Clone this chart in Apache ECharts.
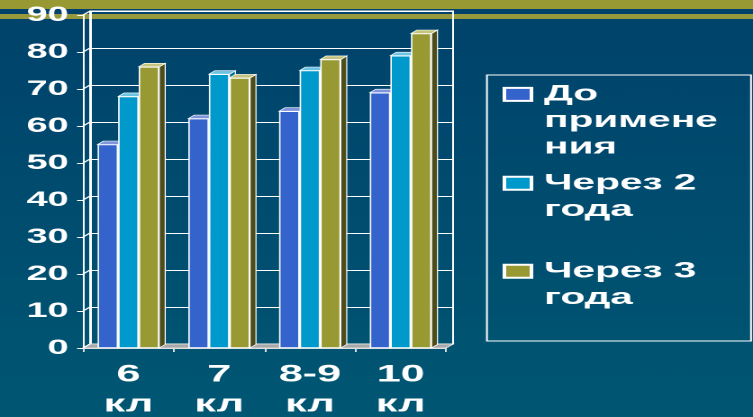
<!DOCTYPE html>
<html>
<head>
<meta charset="utf-8">
<script src="https://cdn.jsdelivr.net/npm/echarts@6/dist/echarts.min.js"></script>
<style>
html, body { margin: 0; padding: 0; width: 753px; height: 417px; overflow: hidden;
  background: linear-gradient(#00426b, #005773); }
#c { width: 418px; height: 417px; transform: scaleX(1.80144); transform-origin: 0 0; }
</style>
</head>
<body>
<div id="c"></div>
<script>
// ---- data ----
const categories = ['6 кл', '7 кл', '8-9 кл', '10 кл'];
const seriesNames = ['До применения', 'Через 2 года', 'Через 3 года'];
const before = [55, 62, 64, 69];
const after2 = [68, 74, 75, 79];
const after3 = [76, 73, 78, 85];
const yTicks = [0, 10, 20, 30, 40, 50, 60, 70, 80, 90];
const legendLabels = ['До\nпримене\nния', 'Через 2\nгода', 'Через 3\nгода'];

// ---- style ----
const FONT = 'Liberation Sans, Arial, sans-serif';
const frontColors = ['#3563cc', '#0099cc', '#999933'];
const topColors = ['#8096dc', '#6cc4e2', '#c4c47e'];
const sideColors = ['#243f85', '#006b90', '#4d4d1c'];
const DX = 3.3, DY = 3.5;     // bar depth (pre-stretch px)
const WX = 3.9, WY = 4;       // wall depth
const LH = 26.5;

const chart = echarts.init(document.getElementById('c'), null, { renderer: 'canvas', devicePixelRatio: 2 });

function renderWalls(params, api) {
  const cs = params.coordSys;
  const v = api.value(1);
  const y = api.coord([0, v])[1];
  const children = [{
    type: 'line', shape: { x1: cs.x, y1: y, x2: cs.x + WX, y2: y - WY },
    style: { stroke: '#ffffff', lineWidth: 1 }
  }];
  if (v === 0) {
    children.unshift({
      type: 'polygon',
      shape: { points: [[cs.x, y], [cs.x + cs.width, y], [cs.x + cs.width + WX, y - WY], [cs.x + WX, y - WY]] },
      style: { fill: '#a9a9a9', stroke: '#e6e6e6', lineWidth: 0.8 }
    });
  }
  return { type: 'group', children };
}

function render3D(params, api) {
  const i = api.value(0);
  const base = api.coord([i, 0]);
  const band = api.size([1, 0])[0];
  const w = band * 0.68 / 3;
  const left = base[0] - 1.5 * w;
  const children = [];
  for (let j = 0; j < 3; j++) {
    const y = api.coord([i, api.value(j + 1)])[1];
    const x0 = left + j * w;
    children.push({
      type: 'polygon',
      shape: { points: [[x0 + w, y], [x0 + w + DX, y - DY], [x0 + w + DX, base[1] - DY], [x0 + w, base[1]]] },
      style: { fill: sideColors[j], stroke: '#ffffff', lineWidth: 0.6 }
    });
    children.push({
      type: 'polygon',
      shape: { points: [[x0, y], [x0 + w, y], [x0 + w + DX, y - DY], [x0 + DX, y - DY]] },
      style: { fill: topColors[j], stroke: '#ffffff', lineWidth: 0.6 }
    });
  }
  return { type: 'group', children };
}

const values = [before, after2, after3];
const legendTops = [28.1, 143.5, 231.5];

// leading empty lines keep the first text line level with the legend marker
function legendText(k) {
  const n = legendLabels[k].split('\n').length;
  return '\n'.repeat(n - 1) + legendLabels[k];
}

const option = {
  backgroundColor: {
    type: 'linear', x: 0, y: 0, x2: 0, y2: 1,
    colorStops: [{ offset: 0, color: '#00426b' }, { offset: 1, color: '#005773' }]
  },
  animation: false,
  textStyle: { fontFamily: FONT },
  graphic: [
    { type: 'rect', z: -1, shape: { x: 0, y: 0, width: 418, height: 9 }, style: { fill: '#999933' } },
    { type: 'rect', z: -1, shape: { x: 0, y: 14, width: 418, height: 5 }, style: { fill: '#979a3c' } },
    { type: 'rect', z: -1, shape: { x: 270.3, y: 75, width: 146.6, height: 266 },
      style: { fill: 'none', stroke: '#ffffff', lineWidth: 1 } }
  ],
  legend: seriesNames.map((name, k) => ({
    data: [name],
    left: 279,
    top: legendTops[k],
    padding: 0,
    orient: 'vertical',
    itemWidth: 15,
    itemHeight: 13,
    selectedMode: false,
    icon: 'rect',
    formatter: () => legendText(k),
    textStyle: {
      color: '#ffffff', fontSize: 22.5, fontWeight: 'bold', fontFamily: FONT,
      lineHeight: LH,
      padding: [0, 0, 0, 2]
    }
  })),
  grid: [
    { left: 50, top: 11, width: 201.5, height: 333, outerBoundsMode: 'none', containLabel: false,
      show: true, borderColor: '#ffffff', borderWidth: 1, backgroundColor: 'transparent' },
    { left: 46.1, top: 15, width: 201.5, height: 333, outerBoundsMode: 'none', containLabel: false }
  ],
  xAxis: [
    { gridIndex: 0, type: 'value', min: 0, max: 1, show: false },
    {
      gridIndex: 1, type: 'category', data: categories,
      axisLine: { show: true, lineStyle: { color: '#dddddd', width: 1 } },
      axisTick: { show: true, length: 4, interval: 0, lineStyle: { color: '#dddddd' } },
      axisLabel: {
        interval: 0, color: '#ffffff', fontSize: 24, fontWeight: 'bold', fontFamily: FONT,
        lineHeight: 30, margin: 12,
        formatter: v => v.replace(' ', '\n')
      }
    }
  ],
  yAxis: [
    {
      gridIndex: 0, type: 'value', min: 0, max: 90, interval: 10,
      axisLabel: { show: false }, axisTick: { show: false },
      axisLine: { show: true, lineStyle: { color: '#ffffff' } },
      splitLine: { show: true, lineStyle: { color: '#ffffff', width: 1 } }
    },
    {
      gridIndex: 1, type: 'value', min: 0, max: 90, interval: 10,
      axisLine: { show: true, lineStyle: { color: '#ffffff', width: 1 } },
      axisTick: { show: true, length: 3.3, lineStyle: { color: '#ffffff' } },
      splitLine: { show: false },
      axisLabel: { color: '#ffffff', fontSize: 21, fontWeight: 'bold', fontFamily: FONT, margin: 8 }
    }
  ],
  series: [
    {
      type: 'custom', name: 'walls', xAxisIndex: 1, yAxisIndex: 1, z: 1, silent: true,
      data: yTicks.map(v => [0, v]), encode: { x: 0, y: 1 }, renderItem: renderWalls
    },
    {
      type: 'custom', name: 'depth', xAxisIndex: 1, yAxisIndex: 1, z: 1, silent: true,
      data: categories.map((c, i) => [i, before[i], after2[i], after3[i]]),
      encode: { x: 0, y: 1 }, renderItem: render3D
    }
  ].concat(seriesNames.map((name, j) => ({
    type: 'bar', name, xAxisIndex: 1, yAxisIndex: 1, z: 2,
    data: values[j],
    barGap: '0%', barCategoryGap: '32%',
    itemStyle: { color: frontColors[j], borderColor: '#ffffff', borderWidth: 0.8 }
  })))
};

chart.setOption(option);
</script>
</body>
</html>
